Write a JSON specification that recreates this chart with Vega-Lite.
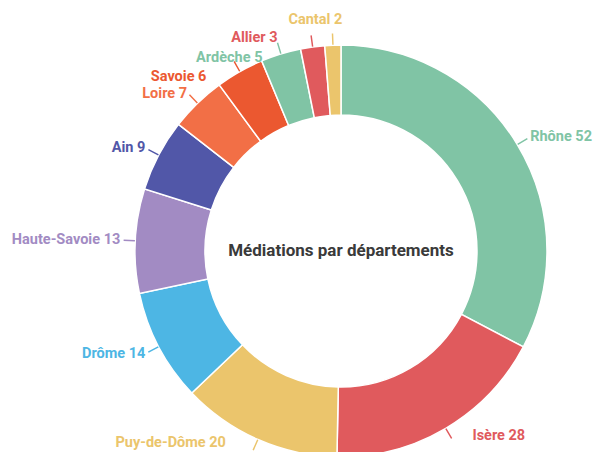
{
  "$schema": "https://vega.github.io/schema/vega-lite/v6.json",
  "autosize": {"type": "none"},
  "width": 514,
  "height": 402,
  "padding": {"left": 84, "top": 50, "right": 0, "bottom": 0},
  "background": "white",
  "config": {"view": {"stroke": null}, "text": {"font": "Roboto"}},
  "data": {"values": [
    {"dept": "Rhône", "count": 52},
    {"dept": "Isère", "count": 28},
    {"dept": "Puy-de-Dôme", "count": 20},
    {"dept": "Drôme", "count": 14},
    {"dept": "Haute-Savoie", "count": 13},
    {"dept": "Ain", "count": 9},
    {"dept": "Loire", "count": 7},
    {"dept": "Savoie", "count": 6},
    {"dept": "Ardèche", "count": 5},
    {"dept": "Allier", "count": 3},
    {"dept": "Cantal", "count": 2}
  ]},
  "transform": [
    {"stack": "count", "groupby": [], "sort": [{"field": "count", "order": "descending"}], "as": ["s", "e"]},
    {"calculate": "(datum.s + datum.e) / 2", "as": "mid"},
    {"calculate": "datum.mid + 0.02", "as": "mid2"},
    {"calculate": "datum.dept + ' ' + datum.count", "as": "label"}
  ],
  "layer": [
    {
      "mark": {"type": "arc", "radius": 206, "radius2": 136, "stroke": "white", "strokeWidth": 1.5},
      "encoding": {
        "theta": {"field": "s", "type": "quantitative", "scale": {"domain": [0, 159], "nice": false}},
        "theta2": {"field": "e"},
        "color": {
          "field": "dept", "type": "nominal", "legend": null,
          "scale": {
            "domain": ["Rhône", "Isère", "Puy-de-Dôme", "Drôme", "Haute-Savoie", "Ain", "Loire", "Savoie", "Ardèche", "Allier", "Cantal"],
            "range": ["#80c4a5", "#e05a5d", "#ebc56c", "#4db6e4", "#a28bc3", "#5157a8", "#f26f46", "#eb5830", "#80c4a5", "#e05a5d", "#ebc56c"]
          }
        }
      }
    },
    {
      "mark": {"type": "arc", "radius": 217, "radius2": 207, "filled": false, "strokeWidth": 1.3},
      "encoding": {
        "theta": {"field": "mid", "type": "quantitative"},
        "theta2": {"field": "mid2"},
        "color": {"field": "dept", "type": "nominal", "legend": null}
      }
    },
    {
      "transform": [{"filter": {"field": "dept", "oneOf": ["Rhône"]}}],
      "mark": {"type": "text", "radius": 221, "align": "left", "baseline": "middle", "fontSize": 14.5, "fontWeight": "bold"},
      "encoding": {"theta": {"field": "mid", "type": "quantitative"}, "text": {"field": "label"}, "color": {"field": "dept", "type": "nominal", "legend": null}}
    },
    {
      "transform": [{"filter": {"field": "dept", "oneOf": ["Drôme", "Haute-Savoie", "Ain"]}}],
      "mark": {"type": "text", "radius": 221, "align": "right", "baseline": "middle", "fontSize": 14.5, "fontWeight": "bold"},
      "encoding": {"theta": {"field": "mid", "type": "quantitative"}, "text": {"field": "label"}, "color": {"field": "dept", "type": "nominal", "legend": null}}
    },
    {
      "transform": [{"filter": {"field": "dept", "oneOf": ["Loire"]}}],
      "mark": {"type": "text", "radius": 221, "align": "right", "baseline": "middle", "fontSize": 14.5, "fontWeight": "bold", "dy": 2},
      "encoding": {"theta": {"field": "mid", "type": "quantitative"}, "text": {"field": "label"}, "color": {"field": "dept", "type": "nominal", "legend": null}}
    },
    {
      "transform": [{"filter": {"field": "dept", "oneOf": ["Isère"]}}],
      "mark": {"type": "text", "radius": 221, "align": "left", "baseline": "middle", "fontSize": 14.5, "fontWeight": "bold", "dx": 19, "dy": -5},
      "encoding": {"theta": {"field": "mid", "type": "quantitative"}, "text": {"field": "label"}, "color": {"field": "dept", "type": "nominal", "legend": null}}
    },
    {
      "transform": [{"filter": {"field": "dept", "oneOf": ["Puy-de-Dôme"]}}],
      "mark": {"type": "text", "radius": 221, "align": "right", "baseline": "middle", "fontSize": 14.5, "fontWeight": "bold", "dx": -26, "dy": -10},
      "encoding": {"theta": {"field": "mid", "type": "quantitative"}, "text": {"field": "label"}, "color": {"field": "dept", "type": "nominal", "legend": null}}
    },
    {
      "transform": [{"filter": {"field": "dept", "oneOf": ["Savoie"]}}],
      "mark": {"type": "text", "radius": 221, "align": "right", "baseline": "middle", "fontSize": 14.5, "fontWeight": "bold", "dx": -26, "dy": 18},
      "encoding": {"theta": {"field": "mid", "type": "quantitative"}, "text": {"field": "label"}, "color": {"field": "dept", "type": "nominal", "legend": null}}
    },
    {
      "transform": [{"filter": {"field": "dept", "oneOf": ["Ardèche"]}}],
      "mark": {"type": "text", "radius": 221, "align": "right", "baseline": "middle", "fontSize": 14.5, "fontWeight": "bold", "dx": -14, "dy": 18},
      "encoding": {"theta": {"field": "mid", "type": "quantitative"}, "text": {"field": "label"}, "color": {"field": "dept", "type": "nominal", "legend": null}}
    },
    {
      "transform": [{"filter": {"field": "dept", "oneOf": ["Allier"]}}],
      "mark": {"type": "text", "radius": 221, "align": "right", "baseline": "middle", "fontSize": 14.5, "fontWeight": "bold", "dx": -33, "dy": 6},
      "encoding": {"theta": {"field": "mid", "type": "quantitative"}, "text": {"field": "label"}, "color": {"field": "dept", "type": "nominal", "legend": null}}
    },
    {
      "transform": [{"filter": {"field": "dept", "oneOf": ["Cantal"]}}],
      "mark": {"type": "text", "radius": 221, "align": "right", "baseline": "middle", "fontSize": 14.5, "fontWeight": "bold", "dx": 10, "dy": -10},
      "encoding": {"theta": {"field": "mid", "type": "quantitative"}, "text": {"field": "label"}, "color": {"field": "dept", "type": "nominal", "legend": null}}
    },
    {
      "transform": [{"filter": {"field": "dept", "oneOf": ["Rhône"]}}],
      "mark": {"type": "text", "text": "Médiations par départements", "align": "center", "baseline": "middle", "fontSize": 17, "fontWeight": "bold"},
      "encoding": {"color": {"value": "#3a3a3a"}}
    }
  ]
}
